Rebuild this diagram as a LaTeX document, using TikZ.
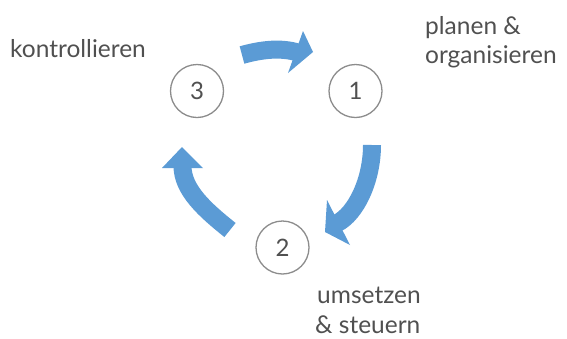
\documentclass[tikz,border=0pt]{standalone}
\usepackage{fontspec}
\setmainfont{Lato}
\usetikzlibrary{calc}
\definecolor{arrowblue}{HTML}{5B9BD5}
\definecolor{txtgray}{HTML}{505050}
\definecolor{ringgray}{HTML}{8C8C8C}
\begin{document}
\begin{tikzpicture}[x=1pt,y=-1pt,
  ring/.style={circle, draw=ringgray, line width=1.3pt, minimum size=53pt, inner sep=0pt,
    text=txtgray, font=\fontsize{24}{24}\selectfont},
  lbl/.style={anchor=base west, inner sep=0pt, text=txtgray, font=\fontsize{24.5}{29}\selectfont},
  arrowbody/.style={draw=arrowblue, line width=18pt, line cap=butt},
  arrowhead/.style={fill=arrowblue}]
\useasboundingbox (0,0) rectangle (567,338);

% step circles
\node[ring] (n1) at (355.5,91) {1};
\node[ring] (n2) at (282.5,247.5) {2};
\node[ring] (n3) at (197,91) {3};

% labels
\node[lbl] (l1a) at (425,34) {planen \&};
\node[lbl] (l1b) at (425,63) {organisieren};
\node[lbl] (l2a) at (317,303.5) {umsetzen};
\node[lbl] (l2b) at (315,333) {\& steuern};
\node[lbl] (l3)  at (10,57)  {kontrollieren};

% arrow 3 -> 1 (top)
\coordinate (t1) at (242,55);
\coordinate (e1) at (298,52.6);
\coordinate (p1) at (313,52);
\coordinate (w1a) at (303,31);
\coordinate (w1b) at (288,73);
\draw[arrowbody] (t1) .. controls (260,50) and (280,47) .. (e1);
\fill[arrowhead] (w1a) -- (p1) -- (w1b) -- cycle;

% arrow 1 -> 2 (right)
\coordinate (t2) at (372,145);
\coordinate (e2) at (336.7,223.4);
\coordinate (p2) at (325,232);
\coordinate (w2a) at (327,200);
\coordinate (w2b) at (350,245);
\draw[arrowbody] (t2) .. controls (372,180) and (356,214) .. (e2);
\fill[arrowhead] (w2a) -- (p2) -- (w2b) -- cycle;

% arrow 2 -> 3 (left)
\coordinate (t3) at (230,230);
\coordinate (e3) at (182.5,166);
\coordinate (p3) at (182,147);
\coordinate (w3a) at (162,168);
\coordinate (w3b) at (203,168);
\draw[arrowbody] (t3) .. controls (205,210) and (182.5,190) .. (e3);
\fill[arrowhead] (w3a) -- (p3) -- (w3b) -- cycle;
\end{tikzpicture}
\end{document}
